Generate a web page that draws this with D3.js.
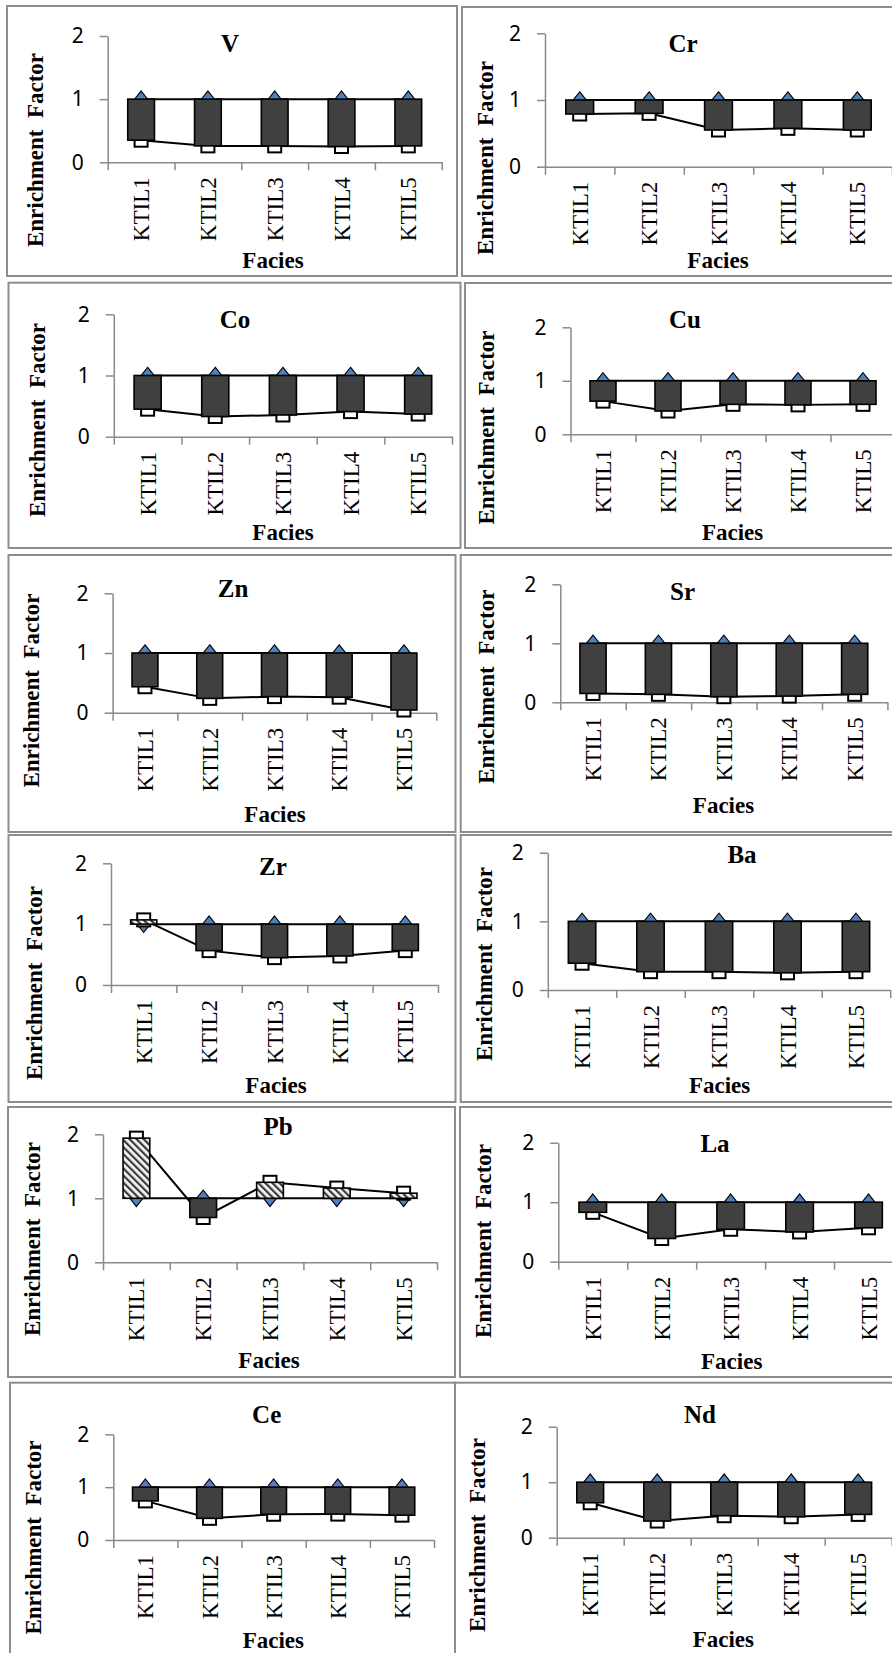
<!DOCTYPE html>
<html>
<head>
<meta charset="utf-8">
<script src="https://cdn.jsdelivr.net/npm/d3@7"></script>
<style>
  html, body { margin: 0; padding: 0; background: #ffffff; }
  svg { display: block; }
</style>
</head>
<body>
<svg id="fig" width="892" height="1653"></svg>
<script>
// Sampling facies along the x axis
const facies = ["KTIL1", "KTIL2", "KTIL3", "KTIL4", "KTIL5"];
// Y axis tick values
const yTicks = [0, 1, 2];
// Reference enrichment factor (EF = 1) drawn as the upper/lower bound of each bar
const referenceEF = [1, 1, 1, 1, 1];

// Enrichment factor of each element per facies
const efV  = [0.35, 0.26, 0.26, 0.25, 0.26];
const efCr = [0.79, 0.80, 0.55, 0.575, 0.55];
const efCo = [0.45, 0.33, 0.355, 0.41, 0.37];
const efCu = [0.62, 0.435, 0.56, 0.55, 0.56];
const efZn = [0.435, 0.24, 0.27, 0.26, 0.045];
const efSr = [0.15, 0.135, 0.095, 0.105, 0.135];
const efZr = [1.07, 0.565, 0.45, 0.477, 0.565];
const efBa = [0.39, 0.267, 0.267, 0.25, 0.267];
const efPb = [1.94, 0.70, 1.25, 1.16, 1.08];
const efLa = [0.83, 0.39, 0.545, 0.50, 0.57];
const efCe = [0.74, 0.41, 0.487, 0.49, 0.47];
const efNd = [0.63, 0.30, 0.396, 0.378, 0.42];

const elements = ["V", "Cr", "Co", "Cu", "Zn", "Sr", "Zr", "Ba", "Pb", "La", "Ce", "Nd"];
const elementEF = [efV, efCr, efCo, efCu, efZn, efSr, efZr, efBa, efPb, efLa, efCe, efNd];

// Placement of each small chart on the page
// box: frame [x, y, w, h]; left/right: plot x extent; y0/y2: pixel rows of EF 0 and 2
const layout = [
  { box: [7, 6, 450, 270],      left: 107.7, right: 441.7, y0: 162.3,  y2: 36,     title: [230, 52],      ylab: [35, 150],      xlab: [273, 268] },
  { box: [462, 7, 440, 269],    left: 545,   right: 892,   y0: 166.7,  y2: 33.3,   title: [683, 52],      ylab: [485, 158],     xlab: [718, 268] },
  { box: [8.5, 282.7, 452, 265.3], left: 113.8, right: 452, y0: 436.7, y2: 314.3,  title: [235, 328],     ylab: [37, 420],      xlab: [283, 540] },
  { box: [465, 283, 440, 265],  left: 570.5, right: 895.5, y0: 434.3,  y2: 327.3,  title: [685, 328],     ylab: [486, 427.5],   xlab: [732.6, 540] },
  { box: [8.5, 555, 447, 277],  left: 112.6, right: 436.3, y0: 712.7,  y2: 593.3,  title: [233, 596.7],   ylab: [31, 690.5],    xlab: [275, 821.7] },
  { box: [460.7, 555, 440, 277], left: 560.3, right: 887.4, y0: 702.3, y2: 584.3,  title: [682.6, 600],   ylab: [486.4, 686.7], xlab: [723.5, 813.3] },
  { box: [8.5, 835, 447, 267],  left: 111,   right: 438,   y0: 985,    y2: 863.3,  title: [273, 875],     ylab: [34, 983],      xlab: [276, 1093.3] },
  { box: [460.7, 835, 440, 267], left: 547.8, right: 890.2, y0: 990,   y2: 852.7,  title: [742, 863.3],   ylab: [483.5, 964],   xlab: [719.6, 1093.3] },
  { box: [8, 1107, 447, 270],   left: 103,   right: 437,   y0: 1262.3, y2: 1134.3, title: [278, 1135],    ylab: [32, 1239],     xlab: [269, 1368] },
  { box: [460, 1107, 440, 270], left: 558.3, right: 903,   y0: 1261.7, y2: 1142.7, title: [715, 1151.7],  ylab: [483.3, 1241],  xlab: [731.7, 1369.3] },
  { box: [10, 1382.7, 445, 290], left: 113.3, right: 434,  y0: 1540,   y2: 1434.3, title: [266.7, 1423.3], ylab: [33.3, 1537.5], xlab: [273.3, 1648] },
  { box: [455, 1382.7, 445, 290], left: 556.7, right: 891.7, y0: 1537.7, y2: 1426.7, title: [700, 1423.3], ylab: [476.7, 1535],  xlab: [723.3, 1646.7] }
];

const serif = "'Liberation Serif', 'Times New Roman', serif";
const sans = "'Noto Sans', 'Liberation Sans', sans-serif";
const axisGray = "#8a8a8a";

const svg = d3.select("#fig");

// Hatch fill for bars where EF exceeds 1
const defs = svg.append("defs");
const hatch = defs.append("pattern")
  .attr("id", "hatch")
  .attr("width", 5).attr("height", 5)
  .attr("patternUnits", "userSpaceOnUse")
  .attr("patternTransform", "rotate(-45)");
hatch.append("rect").attr("width", 5).attr("height", 5).attr("fill", "#f4f4f4");
hatch.append("rect").attr("width", 2.2).attr("height", 5).attr("fill", "#3a3a3a");

const diamond = d3.symbol().type(d3.symbolDiamond2).size(110);

elements.forEach((name, k) => {
  const ef = elementEF[k];
  const L = layout[k];
  const g = svg.append("g").attr("class", "panel");

  // frame
  g.append("rect")
    .attr("x", L.box[0]).attr("y", L.box[1])
    .attr("width", L.box[2]).attr("height", L.box[3])
    .attr("fill", "none").attr("stroke", "#8d8d8d").attr("stroke-width", 2);

  const y = d3.scaleLinear().domain([0, 2]).range([L.y0, L.y2]);
  const x = d3.scaleBand().domain(facies).range([L.left, L.right]);
  const xEdge = d3.scaleLinear().domain([0, facies.length]).range([L.left, L.right]);
  const cx = d => x(d) + x.bandwidth() / 2;

  // y axis
  const ya = g.append("g")
    .attr("transform", `translate(${L.left},0)`)
    .call(d3.axisLeft(y).tickValues(yTicks).tickFormat(d3.format("d"))
      .tickSize(8).tickSizeOuter(0).tickPadding(16));
  ya.select(".domain").attr("stroke", axisGray).attr("stroke-width", 1.5);
  ya.selectAll(".tick line").attr("stroke", axisGray).attr("stroke-width", 1.5);
  ya.selectAll(".tick text")
    .attr("font-family", sans).attr("font-size", 21).attr("fill", "#000");

  // x axis with tick marks between categories
  const xa = g.append("g")
    .attr("transform", `translate(0,${L.y0})`)
    .call(d3.axisBottom(xEdge).tickValues(d3.range(facies.length + 1))
      .tickFormat("").tickSize(8).tickSizeOuter(0));
  xa.select(".domain").attr("stroke", axisGray).attr("stroke-width", 1.5);
  xa.selectAll(".tick line").attr("stroke", axisGray).attr("stroke-width", 1.5);

  // category labels, rotated
  const xl = g.append("g")
    .attr("transform", `translate(0,${L.y0})`)
    .call(d3.axisBottom(x).tickSize(0));
  xl.select(".domain").remove();
  xl.selectAll(".tick text")
    .attr("transform", "rotate(-90)")
    .attr("x", -15).attr("y", 0).attr("dy", "0.35em")
    .attr("text-anchor", "end")
    .attr("font-family", serif).attr("font-size", 23).attr("fill", "#000");

  // lines for EF = 1 and the element EF
  const line = d3.line().x((d, i) => cx(facies[i])).y(d => y(d));
  g.append("path").datum(referenceEF).attr("d", line)
    .attr("fill", "none").attr("stroke", "#000").attr("stroke-width", 2);
  g.append("path").datum(ef).attr("d", line)
    .attr("fill", "none").attr("stroke", "#000").attr("stroke-width", 2);

  // markers
  g.selectAll(".ref-marker").data(referenceEF).join("path")
    .attr("class", "ref-marker")
    .attr("d", diamond)
    .attr("transform", (d, i) => `translate(${cx(facies[i])},${y(d)}) scale(1,1.25)`)
    .attr("fill", "#4f81bd").attr("stroke", "#000").attr("stroke-width", 1);
  g.selectAll(".ef-marker").data(ef).join("rect")
    .attr("class", "ef-marker")
    .attr("x", (d, i) => cx(facies[i]) - 6.5)
    .attr("y", d => y(d) - 6.5)
    .attr("width", 13).attr("height", 13)
    .attr("fill", "#fff").attr("stroke", "#000").attr("stroke-width", 2);

  // up/down bars between EF = 1 and the element EF
  const bw = x.bandwidth() * 0.4;
  g.selectAll(".bar").data(ef).join("rect")
    .attr("class", "bar")
    .attr("x", (d, i) => cx(facies[i]) - bw / 2)
    .attr("y", (d, i) => y(Math.max(d, referenceEF[i])))
    .attr("width", bw)
    .attr("height", (d, i) => Math.abs(y(d) - y(referenceEF[i])))
    .attr("fill", (d, i) => d < referenceEF[i] ? "#404040" : "url(#hatch)")
    .attr("stroke", "#000").attr("stroke-width", 1.6);

  // element title
  g.append("text")
    .attr("x", L.title[0]).attr("y", L.title[1])
    .attr("text-anchor", "middle")
    .attr("font-family", serif).attr("font-weight", "bold").attr("font-size", 25)
    .text(name);

  // axis titles
  g.append("text")
    .attr("transform", `translate(${L.ylab[0]},${L.ylab[1]}) rotate(-90)`)
    .attr("text-anchor", "middle").attr("dy", "0.35em")
    .attr("font-family", serif).attr("font-weight", "bold").attr("font-size", 23)
    .style("white-space", "pre")
    .text("Enrichment  Factor");
  g.append("text")
    .attr("x", L.xlab[0]).attr("y", L.xlab[1])
    .attr("text-anchor", "middle")
    .attr("font-family", serif).attr("font-weight", "bold").attr("font-size", 23)
    .text("Facies");
});
</script>
</body>
</html>
